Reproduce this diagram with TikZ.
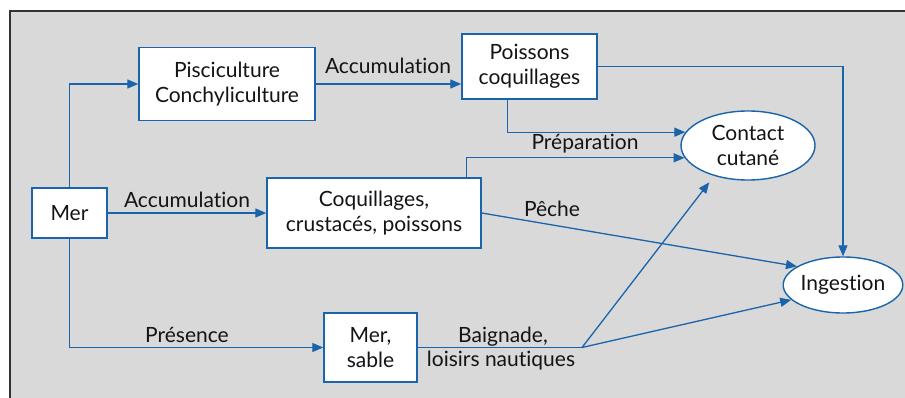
\documentclass[tikz,border=0pt]{standalone}
\usepackage{fontspec}
\setmainfont{Lato}[Ligatures=NoCommon]
\usetikzlibrary{arrows.meta,shapes.geometric}
\definecolor{lineblue}{RGB}{25,100,170}
\definecolor{bggray}{RGB}{217,217,217}
\definecolor{framegray}{RGB}{50,50,50}
\definecolor{txt}{RGB}{20,20,20}
\begin{document}
\begin{tikzpicture}[x=1pt,y=-1pt,
  box/.style={draw=lineblue,line width=1.4pt,fill=white,inner sep=0pt,align=center,
    font=\fontsize{21}{24.5}\selectfont,text=txt},
  oval/.style={ellipse,draw=lineblue,line width=1.4pt,fill=white,inner sep=0pt,align=center,
    font=\fontsize{21}{24.5}\selectfont,text=txt},
  conn/.style={draw=lineblue,line width=1.3pt,-{Triangle[length=11pt,width=9pt]}},
  plain/.style={draw=lineblue,line width=1.3pt},
  lbl/.style={font=\fontsize{21}{24}\selectfont,text=txt,anchor=base,inner sep=0pt}]
\useasboundingbox (0,0) rectangle (905,398);
\fill[bggray] (10,11) rectangle (906,399);
\draw[framegray,line width=1.5pt] (10,399) -- (10,11) -- (906,11);

\node[box,minimum width=176pt,minimum height=73pt] (pisc) at (227,84) {Pisciculture\\Conchyliculture};
\node[box,minimum width=135pt,minimum height=65pt] (pois) at (529.5,66.5) {Poissons\\coquillages};
\node[oval,minimum width=134pt,minimum height=69pt] (contact) at (748,145.5) {Contact\\cutané};
\node[box,minimum width=75pt,minimum height=50pt] (mer) at (69.5,213) {Mer};
\node[box,minimum width=214pt,minimum height=70pt] (coq) at (374,213) {Coquillages,\\crustacés, poissons};
\node[box,minimum width=93pt,minimum height=69pt] (sable) at (370.5,347.5) {Mer,\\sable};
\node[oval,minimum width=102pt,minimum height=56pt] (ing) at (843,285) {Ingestion};

\coordinate (fork) at (582,347.5);

\draw[conn] (mer.north) |- (pisc.west);
\draw[conn] (pisc.east) -- (pisc.east -| pois.west);
\draw[conn] (mer.east) -- (coq.west);
\draw[conn] (mer.south) |- (sable.west);
\draw[conn] ([xshift=46pt]pois.south west) |- (contact.168.7);
\draw[conn] ([xshift=200pt]coq.north west) |- (contact.191.3);
\draw[conn] (pois.east) -| (ing.north);
\draw[conn] (coq.east) -- (ing.158.4);
\draw[plain] (sable.east) -- (fork);
\draw[conn,shorten >=8pt] (fork) -- (contact.222.4);
\draw[conn] (fork) -- (ing.196);

\node[lbl] (l1) at (388,74) {Accumulation};
\node[lbl] (l2) at (187,208) {Accumulation};
\node[lbl] (l3) at (187,342) {Présence};
\node[lbl] (l4) at (585,150) {Préparation};
\node[lbl] (l5) at (552,217) {Pêche};
\node[lbl] (l6) at (503,342) {Baignade,};
\node[lbl] (l7) at (501,366) {loisirs nautiques};
\end{tikzpicture}
\end{document}
